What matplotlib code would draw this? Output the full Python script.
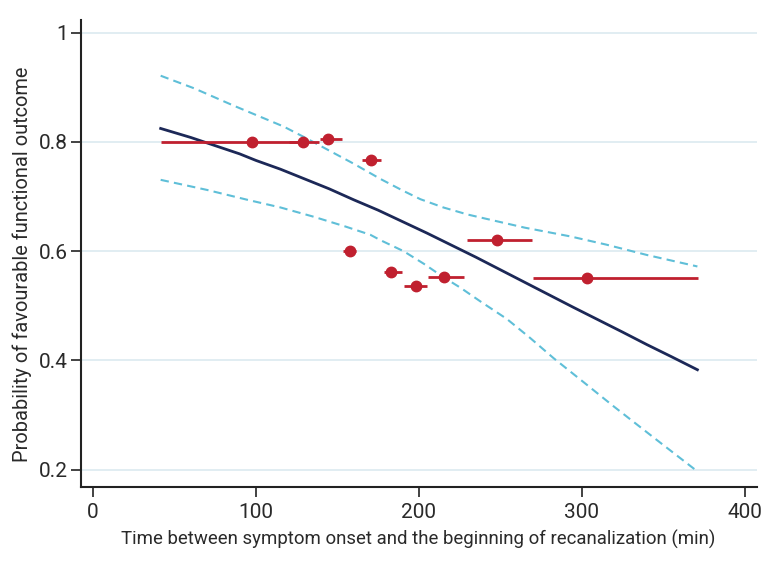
import matplotlib
matplotlib.use("Agg")
import matplotlib.pyplot as plt

# Observed points: time (min), probability, horizontal interval
pt_x = [97.4, 129.1, 144.4, 170.8, 157.5, 182.6, 198.0, 215.3, 247.7, 303.3]
pt_y = [0.800, 0.800, 0.806, 0.766, 0.601, 0.562, 0.537, 0.552, 0.621, 0.551]
pt_lo = [41.5, 120.0, 139.1, 164.8, 153.4, 178.5, 190.8, 205.5, 229.7, 269.9]
pt_hi = [129.0, 138.5, 153.0, 176.5, 161.6, 189.8, 205.2, 227.6, 269.6, 371.4]

# Fitted curve
fit_x = [41.5, 60, 75, 90, 100, 115, 130, 145, 160, 175, 190, 205, 220, 235, 250,
         265, 280, 295, 310, 325, 340, 355, 371]
fit_y = [0.8245, 0.808, 0.793, 0.778, 0.766, 0.750, 0.732, 0.714, 0.694, 0.675,
         0.654, 0.633, 0.611, 0.589, 0.566, 0.543, 0.520, 0.497, 0.4745, 0.452,
         0.429, 0.407, 0.383]

# Confidence bands
up_x = [41.5, 62, 86.5, 105, 117, 130, 140, 160, 176.5, 190, 201, 215, 230, 246,
        265, 293, 315, 340, 371]
up_y = [0.921, 0.898, 0.866, 0.843, 0.828, 0.808, 0.792, 0.760, 0.732, 0.711,
        0.695, 0.680, 0.667, 0.656, 0.643, 0.627, 0.612, 0.593, 0.572]
lo_x = [41.5, 70, 94.7, 115, 135.4, 155, 170.2, 176.5, 190.6, 203, 215.3, 225.6,
        237.8, 254, 268, 282.8, 300, 319.6, 345, 371]
lo_y = [0.7305, 0.712, 0.694, 0.680, 0.663, 0.645, 0.630, 0.620, 0.600, 0.577,
        0.552, 0.533, 0.508, 0.476, 0.442, 0.404, 0.363, 0.316, 0.257, 0.197]

x_ticks = [0, 100, 200, 300, 400]
y_ticks = [0.2, 0.4, 0.6, 0.8, 1.0]
y_ticklabels = ["0.2", "0.4", "0.6", "0.8", "1"]

plt.rcParams['font.family'] = ['Roboto', 'DejaVu Sans']

fig = plt.figure(figsize=(7.78, 5.79), dpi=100)
ax = fig.add_axes([0.1037, 0.1594, 0.8687, 0.8061])

navy = '#1c2857'
cyan = '#5fbfd8'
red = '#c0202f'
txt = '#2a2a2a'

for y in y_ticks:
    ax.axhline(y, color='#dceaf0', lw=1.2, zorder=0)

ax.plot(up_x, up_y, color=cyan, lw=1.5, ls=(0, (4, 2.5)), zorder=2)
ax.plot(lo_x, lo_y, color=cyan, lw=1.5, ls=(0, (4, 2.5)), zorder=2)
ax.plot(fit_x, fit_y, color=navy, lw=2.0, zorder=3)

for x, y, lo, hi in zip(pt_x, pt_y, pt_lo, pt_hi):
    ax.plot([lo, hi], [y, y], color=red, lw=2.0, zorder=4, solid_capstyle='butt')
ax.plot(pt_x, pt_y, 'o', color=red, ms=7.5, zorder=5, mec=red)

ax.set_xlim(-7.6, 407.3)
ax.set_ylim(0.169, 1.023)
ax.set_xticks(x_ticks)
ax.set_yticks(y_ticks)
ax.set_yticklabels(y_ticklabels)

for s in ['top', 'right']:
    ax.spines[s].set_visible(False)
for s in ['left', 'bottom']:
    ax.spines[s].set_color('#222222')
    ax.spines[s].set_linewidth(1.5)

ax.tick_params(axis='both', direction='out', length=7, width=1.2, color='#222222',
               labelsize=15, labelcolor=txt)
ax.tick_params(axis='y', pad=2)
ax.tick_params(axis='x', pad=5)

ax.set_xlabel('Time between symptom onset and the beginning of recanalization (min)',
              fontsize=13.4, color=txt, labelpad=5)
ax.set_ylabel('Probability of favourable functional outcome',
              fontsize=14.4, color=txt, va='center')
ax.yaxis.set_label_coords(-0.086, 0.477)

fig.savefig('out.png', dpi=100)
